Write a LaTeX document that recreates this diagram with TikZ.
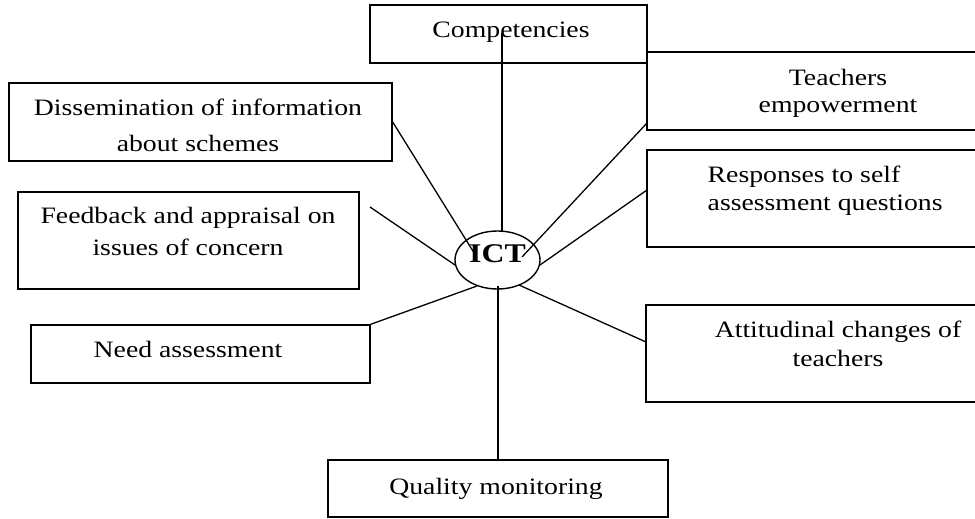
\documentclass[tikz,border=0pt]{standalone}
\usepackage{fontspec}
\setmainfont{Liberation Serif}[FakeStretch=1.18]
\usetikzlibrary{shapes.geometric}
\begin{document}
\begin{tikzpicture}[x=1pt,y=-1pt,
  line width=1.4pt,
  boxnode/.style={draw, rectangle, inner sep=0pt},
  txt/.style={font=\fontsize{23.5}{28}\selectfont, inner sep=0pt, anchor=base, align=center},
  conn/.style={draw, line width=1.3pt}]
\path[use as bounding box] (0,0) rectangle (975,519);
\clip (0,0) rectangle (975,519);

% boxes
\node[boxnode, minimum width=277pt, minimum height=58pt] (comp) at (508.5,34) {};
\node[boxnode, minimum width=383pt, minimum height=78pt] (diss) at (200.5,122) {};
\node[boxnode, minimum width=341pt, minimum height=97pt] (feed) at (188.5,240.5) {};
\node[boxnode, minimum width=339pt, minimum height=58pt] (need) at (200.5,354) {};
\node[boxnode, minimum width=340pt, minimum height=57pt] (qual) at (498,488.5) {};
\node[boxnode, minimum width=343pt, minimum height=78pt] (teach) at (818.5,91) {};
\node[boxnode, minimum width=343pt, minimum height=97pt] (resp) at (818.5,198.5) {};
\node[boxnode, minimum width=344pt, minimum height=97pt] (att) at (818,353.5) {};

% texts (multi-line nodes: base anchor = baseline of the last line)
\node[txt] (tcomp) at (511,38) {Competencies};
\node[txt, font=\fontsize{23.5}{36}\selectfont] (tdiss) at (198,151) {Dissemination of information\\about schemes};
\node[txt, font=\fontsize{23.5}{32}\selectfont] (tfeed) at (188,255) {Feedback and appraisal on\\issues of concern};
\node[txt] (tneed) at (188,357) {Need assessment};
\node[txt] (tqual) at (496,494) {Quality monitoring};
\node[txt] (tteach) at (838,113) {Teachers\\empowerment};
\node[txt, anchor=base west, align=left] (tresp) at (707,210) {Responses to self\\assessment questions};
\node[txt, font=\fontsize{23.5}{29}\selectfont] (tatt) at (838,366) {Attitudinal changes of\\teachers};

% centre
\node[draw, ellipse, minimum width=85pt, minimum height=58pt, inner sep=0pt,
      text depth=12pt, font=\fontsize{27}{30}\selectfont\bfseries] (ict) at (497.5,260) {ICT};

% connector end points
\coordinate (c1) at (502,33);
\coordinate (e1) at (502,231);
\coordinate (e2) at (476,256);
\coordinate (s3) at (370,207);
\coordinate (e3) at (455,265);
\coordinate (e4) at (477,286);
\coordinate (e5) at (498,286);
\coordinate (s6) at (647,123);
\coordinate (e6) at (522,257);
\coordinate (s7) at (647,190);
\coordinate (e7) at (540,265);
\coordinate (s8) at (646,342);
\coordinate (e8) at (519,285);

% connectors
\draw[conn] (c1) -- (e1);
\draw[conn] (diss.east) -- (e2);
\draw[conn] (s3) -- (e3);
\draw[conn] (need.north east) -- (e4);
\draw[conn] (qual.north) -- (e5);
\draw[conn] (s6) -- (e6);
\draw[conn] (s7) -- (e7);
\draw[conn] (s8) -- (e8);
\end{tikzpicture}
\end{document}
